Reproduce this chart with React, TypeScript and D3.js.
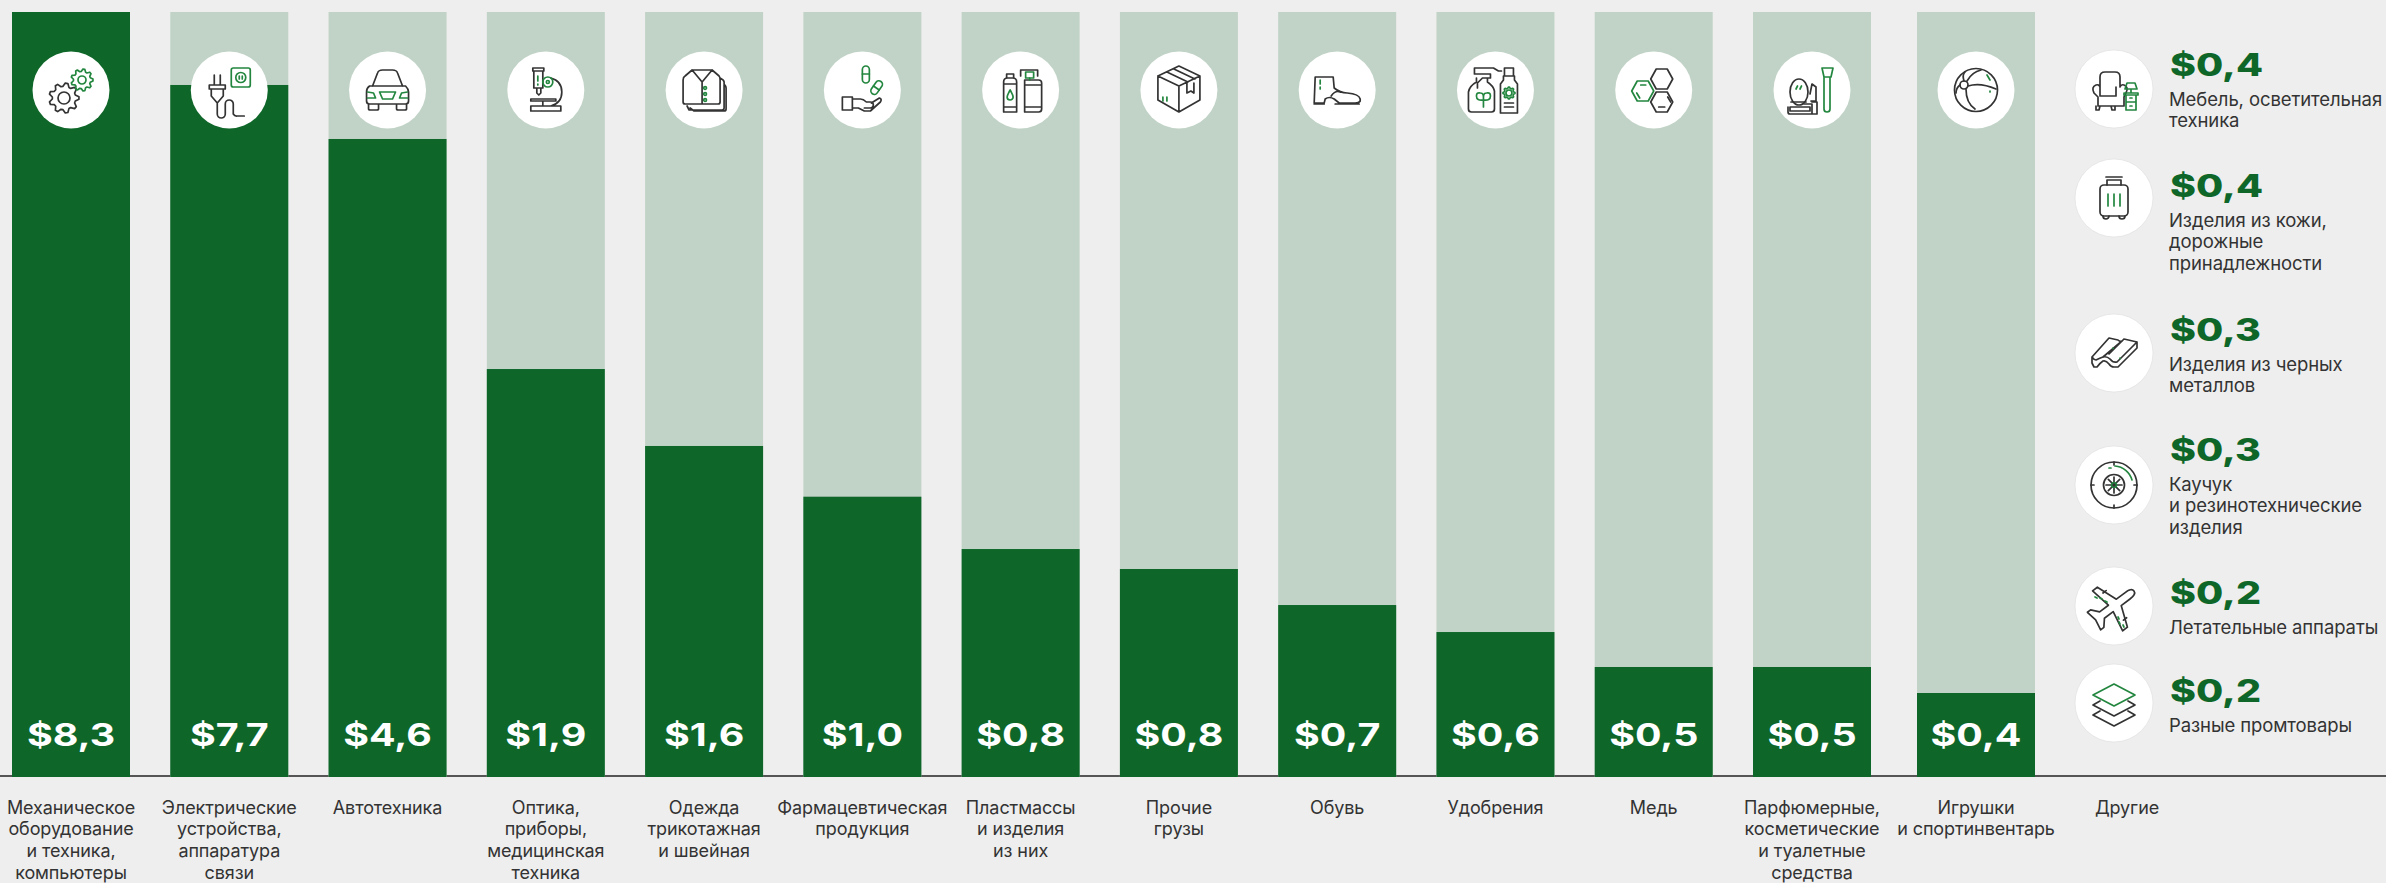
import React, { useEffect } from "react";
import * as d3 from "d3";

const BG = "#eeeeee", DARK = "#0e6729", LIGHT = "#c1d3c7", INK = "#333333", ICON_GREEN = "#23863f";
const WIDTH = 2386, HEIGHT = 883;

const barValues = ["$8,3","$7,7","$4,6","$1,9","$1,6","$1,0","$0,8","$0,8","$0,7","$0,6","$0,5","$0,5","$0,4"];
// Filled share of each column, in percent of the full column, as drawn (the source is not linear to the value)
const barFill = [100, 90.46, 83.4, 53.33, 43.27, 36.64, 29.8, 27.19, 22.48, 18.95, 14.38, 14.38, 10.98];
const barLabels = [
  ["Механическое","оборудование","и техника,","компьютеры"],
  ["Электрические","устройства,","аппаратура","связи"],
  ["Автотехника"],
  ["Оптика,","приборы,","медицинская","техника"],
  ["Одежда","трикотажная","и швейная"],
  ["Фармацевтическая","продукция"],
  ["Пластмассы","и изделия","из них"],
  ["Прочие","грузы"],
  ["Обувь"],
  ["Удобрения"],
  ["Медь"],
  ["Парфюмерные,","косметические","и туалетные","средства"],
  ["Игрушки","и спортинвентарь"],
  ["Другие"],
];
const otherValues = ["$0,4","$0,4","$0,3","$0,3","$0,2","$0,2"];
const otherLabels = [
  ["Мебель, осветительная","техника"],
  ["Изделия из кожи,","дорожные","принадлежности"],
  ["Изделия из черных","металлов"],
  ["Каучук","и резинотехнические","изделия"],
  ["Летательные аппараты"],
  ["Разные промтовары"],
];
const otherRank = [0,1,2,3,4,5];

const xCenter = d3.scaleLinear().domain([0,11,12,13]).range([71,1812,1976,2127]);
const yScale = d3.scaleLinear().domain([0,100]).range([777,12]);
const otherIconY = d3.scaleLinear().domain(otherRank).range([89,198,353,485,606,703]);
const otherValueY = d3.scaleLinear().domain(otherRank).range([76,197,341,461,604,702]);
const BAR_W = 118;

function gear(cx:number, cy:number, r:number, teeth:number){
  const pts:[number,number][] = [];
  const n = teeth*4;
  for(let i=0;i<n;i++){
    const a = (i/n)*Math.PI*2 - Math.PI/n*1.0;
    const rr = (i%4===0||i%4===1) ? r : r*0.78;
    pts.push([cx+Math.cos(a)*rr, cy+Math.sin(a)*rr]);
  }
  return d3.line()(pts)+"Z";
}
const hex = (cx:number, cy:number) => `M${cx-5.5} ${cy-10}h11l5.500 10l-5.500 10h-11l-5.500 -10z`;

const D = ({children}:{children:any}) => <g fill="none" stroke={INK} strokeWidth={1.7} strokeLinecap="round" strokeLinejoin="round">{children}</g>;
const G = ({children}:{children:any}) => <g fill="none" stroke={ICON_GREEN} strokeWidth={1.7} strokeLinecap="round" strokeLinejoin="round">{children}</g>;

const barIcons = [
  <g key="0"><D><path d={gear(-7,8,15,9)}/><circle cx={-7} cy={8} r={6}/></D><G><path d={gear(11,-10,11,9)}/><circle cx={11} cy={-10} r={4}/></G></g>,
  <g key="1"><G><rect x={2} y={-22} width={19} height={19} rx={2}/><circle cx={11.5} cy={-12.5} r={5}/><path d="M10 -14v3M13 -14v3"/></G>
    <D><path d="M-15 -15v10M-9 -15v10M-20 -5h16v4h-16zM-18 -1v7l6 7l6 -7v-7M-12 13v11a4 4 0 0 0 8 0v-10a4 4 0 0 1 8 0v10a4 4 0 0 0 4 2h7"/></D></g>,
  <g key="2"><D><path d="M-15 -4l5 -13q1 -3 5 -3h10q4 0 5 3l5 13M-18 -4q-3 2 -3 6v9q0 3 3 3h36q3 0 3 -3v-9q0 -3 -3 -6zM-19 14v5q0 1 2 1h6q2 0 2 -1v-5M9 14v5q0 1 2 1h6q2 0 2 -1v-5"/></D>
    <G><path d="M-8 2h16l-3 7h-10zM-20 2l6 1l2 5h-8M20 2l-6 1l-2 5h8"/></G></g>,
  <g key="3"><D><path d="M-13 -22h11v3h-11zM-12 -19h9v17h-9zM-9 -2h4v5l-2 2l-2 -2zM5 -12q11 3 11 14q0 11 -11 14M-15 9h25v2h-25zM-3 11v5M-15 16h30v5h-30z"/></D><G><circle cx={2} cy={-8} r={5}/><circle cx={2} cy={-8} r={1.5}/><path d="M-8 -14v5M-8 -6v1"/></G></g>,
  <g key="4"><D><path d="M-12 -20h20l7 6q1 1 1 4v22q0 2 -2 2h-33q-2 0 -2 -2v-22q0 -3 2 -4zM-12 -20l10 12l10 -12M-2 -8v22M16 -12q4 2 4 4v26q0 2 -2 2h-33l-2 -4M20 -6q2 2 2 4v21q0 2 -2 2h-30l-4 -3"/></D><G><circle cx={1} cy={-2} r={1.4}/><circle cx={1} cy={4} r={1.4}/><circle cx={1} cy={10} r={1.4}/></G></g>,
  <g key="5"><D><path d="M-20 7h10v13h-10zM-10 9h8q3 0 6 3h4q3 0 3 3t-3 3h-6M-10 18h6l6 3h6l10 -9q2 -3 -1 -4l-8 5"/></D><G><rect x={0} y={-24} width={7} height={17} rx={3.5}/><path d="M0 -16h7"/><g transform="translate(14,-2) rotate(35)"><rect x={-3.5} y={-8} width={7} height={15} rx={3.5}/><path d="M-3.5 0h7"/></g></G></g>,
  <g key="6"><D><path d="M-14 -16h7v4h-7zM-17 -8q0 -4 4 -4h5q4 0 4 4v30h-13zM-17 -6h13M-17 17h13M4 -10h14q3 0 3 3v26q0 3 -3 3h-14zM4 -5h17M4 17h17M0 -14v-6h17v6"/></D><G><rect x={5} y={-18} width={8} height={6}/><path d="M9 -12v2M-10.500 0c-2 4 -3 5 -3 7a3 3 0 0 0 6 0c0 -2 -1 -3 -3 -7z"/></G></g>,
  <g key="7"><D><path d="M0 -24l21 10v24l-21 12l-21 -12v-24zM0 -4v26M0 -4l21 -10M0 -4l-21 -10M-12 -18l21 10M-5 -21l21 10M8 -7v10l4 -2l3 2v-10"/></D><G><path d="M-16 7v4M-12 7v4"/></G></g>,
  <g key="8"><D><path d="M-22 -13h18l1 11q6 5 13 5q12 1 13 6v2q-1 2 -5 2h-16l-5 -4q-5 -3 -9 0l-1 4h-10zM-23 14l10 0M-2 14h24M-6 6q4 -6 9 -4"/></D><G><path d="M-17 -10v4M-17 -3v2"/></G></g>,
  <g key="9"><D><path d="M-21 -22h19l5 3h3M-21 -22v6h16v4h-8l-5 5v5M-8 -12v4q6 4 7 9v18q0 3 -3 3h-20q-3 0 -3 -3v-17q1 -6 8 -10v-4M9 -22h9v8h-9zM8 -14h11v4l3 4v29h-17v-29l3 -4zM9 13h9M9 17h9"/></D><G><path d="M-12 17v-11M-12 10q-7 1 -7 -4q0 -4 4 -3q3 0 3 4q0 -4 3 -4q4 -1 4 3q0 5 -7 4"/><circle cx={13.500} cy={3} r={3}/><path d={gear(13.5,3,6,8)}/></G></g>,
  <g key="10"><D><path d={hex(8,-11)}/><path d={hex(8,12)}/><path d="M5 17h6M14 7l3 5"/></D><G><path d={hex(-11,1)}/><path d="M-13 -5h5M-17 3l3 5"/></G></g>,
  <g key="11"><D><ellipse cx={-13} cy={2} rx={9} ry={13}/><path d="M-21 12h15M-22 17h20v4h-20zM-24 17v5q0 2 2 2h22v-10h-8M-2 4l2 -10l4 3v14h-5M0 12h5v12h-5"/></D><G><path d="M10 -22h11l-2 9h-7zM12 -13v32q0 3 3 3h0q3 0 3 -3v-32M-16 -1l1.500 -3M-12 -1l1.500 -3"/></G></g>,
  <g key="12"><D><circle cx={0} cy={0} r={21.500}/><circle cx={-12} cy={-5} r={4}/><path d="M-9 -9q5 -9 14 -11M-8 -4q12 -4 28 3M-10 -1q0 14 9 20M-16 -5q-4 3 -4 8M-12 -9q-2 -6 1 -9"/></D><G><path d="M11 -15l3 5M14 1l0 1"/></G></g>,
];

const otherIcons = [
  <g key="0"><D><path d="M-20 4q-3 -6 2 -8q3 -1 4 2v-10q0 -5 5 -5h10q5 0 5 5v10q1 -3 4 -2q5 2 2 8l-2 4v9h-26v-9zM-14 -2v9h16v-9M-18 17v4h3l1 -4M-3 17l1 4h3v-4"/></D><G><path d="M13 -6h8l2 6h-12zM17 0v4M10 4h14v2h-14zM12 6h10v15h-10zM12 13h10M16 9h2M16 17h2"/></G></g>,
  <g key="1"><D><rect x={-14} y={-13} width={28} height={31} rx={4}/><path d="M-7 -13v-5h14v5M-8 -21h16M-11 18a3 3 0 1 0 6 0M5 18a3 3 0 1 0 6 0"/></D><G><path d="M-6 -4v12M0 -4v12M6 -4v12"/></G></g>,
  <g key="2"><D><path d="M-22 4L-5 -15L4 -13Q6 -11 8 -12L10 -14L23 -11V-5L4 14H0Q-3 14 -5 11Q-8 7 -11 8Q-14 10 -17 14H-20L-22 10ZM-22 4Q-20 7 -18 7Q-14 5 -11 4Q-7 3 -4 6Q-1 10 3 9L23 -11M-11 4L8 -12M-5 1L10 -14"/></D><G><path d="M-1 -5l0 .5M6 5l0 .5"/></G></g>,
  <g key="3"><D><circle r={23}/><circle r={10.500}/><path d="M0 -8v16M-8 0h16M-5.700 -5.700l11.400 11.400M-5.700 5.700l11.400 -11.400M0 -23v3M0 23v-3M-23 0h3M23 0h-3"/></D><G><circle r={2.5}/><path d="M1 -19a19 19 0 0 1 17 14M-3 -17h-2"/></G></g>,
  <g key="4"><g transform="rotate(-37)"><D><path d="M25 0Q25 -4 17 -4H6L-2 -25H-8L-4 -4H-15L-21 -11H-25L-23 0L-25 11H-21L-15 4H-4L-8 25H-2L6 4H17Q25 4 25 0ZM-1 -17h4M-1 17h4"/></D></g><G><path d="M-19 -9l2 1M-14 -8l2 1M-9 -5l2 1M4 11l1 2M5 16l1 2M9 19l1 2" /></G></g>,
  <g key="5"><G><path d="M0 -19l-21 11l21 11l21 -11z"/></G><D><path d="M-14 -1l-7 4l21 11l21 -11l-7 -4M-14 9l-7 4l21 11l21 -11l-7 -4" transform="translate(0,-1)"/></D></g>,
];

export default function App(){
  useEffect(()=>{ document.body.style.margin="0"; document.body.style.background=BG; },[]);
  const font = "Inter, 'Noto Sans', sans-serif";
  return (
    <svg width={WIDTH} height={HEIGHT} viewBox={`0 0 ${WIDTH} ${HEIGHT}`} style={{display:"block",fontFamily:font}}>
      <rect width={WIDTH} height={HEIGHT} fill={BG}/>
      <line x1={0} x2={WIDTH} y1={776} y2={776} stroke="#555555" strokeWidth={2}/>
      {barValues.map((v,i)=>{
        const cx = xCenter(i);
        const top = yScale(barFill[i]);
        return <g key={i}>
          <rect x={cx-BAR_W/2} y={yScale(100)} width={BAR_W} height={yScale(0)-yScale(100)} fill={LIGHT}/>
          <rect x={cx-BAR_W/2} y={top} width={BAR_W} height={yScale(0)-top} fill={DARK}/>
          <circle cx={cx} cy={90} r={38.5} fill="#ffffff"/>
          <g transform={`translate(${cx},90)`}>{barIcons[i]}</g>
          <text transform={`translate(${cx},746) scale(1.27,1)`} textAnchor="middle" fontSize={31} fontWeight={700} fill="#ffffff">{v}</text>
        </g>;
      })}
      {barLabels.map((lines,i)=>(
        <text key={i} textAnchor="middle" fontSize={18} fill={INK} letterSpacing={-0.1}>
          {lines.map((t,j)=><tspan key={j} x={xCenter(i)} y={813.5+j*21.8}>{t}</tspan>)}
        </text>
      ))}
      {otherValues.map((v,i)=>(
        <g key={i}>
          <circle cx={2114} cy={otherIconY(i)} r={39} fill="#ffffff" stroke="#dddddd" strokeWidth={0.6}/>
          <g transform={`translate(2114,${otherIconY(i)})`}>{otherIcons[i]}</g>
          <text transform={`translate(2170,${otherValueY(i)}) scale(1.27,1)`} fontSize={31} fontWeight={800} fill={DARK}>{v}</text>
          <text fontSize={18.500} fill={INK} letterSpacing={-0.1}>
            {otherLabels[i].map((t,j)=><tspan key={j} x={2169} y={otherValueY(i)+29.500+j*21.5}>{t}</tspan>)}
          </text>
        </g>
      ))}
    </svg>
  );
}
